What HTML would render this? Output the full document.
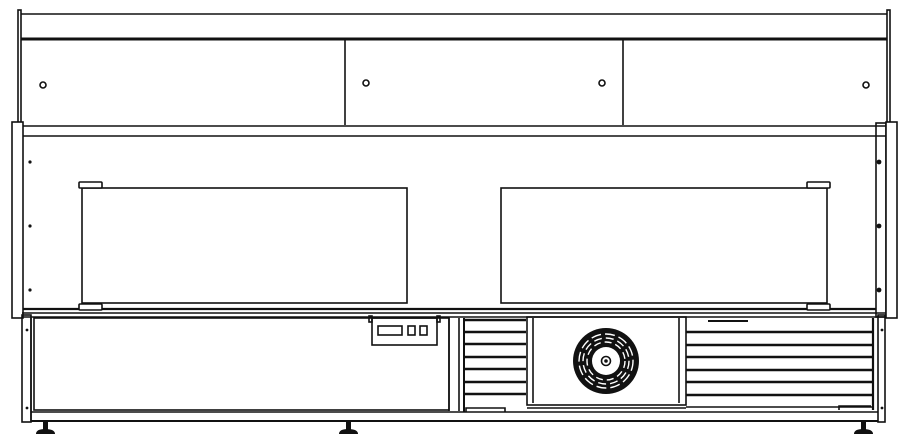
<!DOCTYPE html>
<html><head><meta charset="utf-8"><style>html,body{margin:0;padding:0;background:#fff}svg{display:block}</style></head>
<body>
<svg width="908" height="443" viewBox="0 0 908 443" xmlns="http://www.w3.org/2000/svg" fill="none" stroke="#111" stroke-width="1.6">
<!-- top canopy -->
<rect x="18" y="10" width="3" height="113" fill="#fff"/>
<rect x="887" y="10" width="3" height="113" fill="#fff"/>
<line x1="21" y1="14" x2="887" y2="14"/>
<line x1="21" y1="39" x2="887" y2="39" stroke-width="3"/>
<line x1="345" y1="40" x2="345" y2="125"/>
<line x1="623" y1="40" x2="623" y2="125"/>
<circle cx="43" cy="85" r="3"/>
<circle cx="366" cy="83" r="3"/>
<circle cx="602" cy="83" r="3"/>
<circle cx="866" cy="85" r="3"/>
<!-- middle section -->
<rect x="12" y="122" width="11" height="196" fill="#fff"/>
<rect x="876" y="123" width="10" height="194"/>
<rect x="886" y="122" width="11" height="196" fill="#fff"/>
<line x1="23" y1="126" x2="886" y2="126"/>
<line x1="23" y1="136" x2="886" y2="136"/>
<line x1="23" y1="309" x2="876" y2="309" stroke-width="2.2"/>
<g fill="#111" stroke="none">
<circle cx="30" cy="162" r="1.6"/><circle cx="30" cy="226" r="1.6"/><circle cx="30" cy="290" r="1.6"/>
<circle cx="879" cy="162" r="2.4"/><circle cx="879" cy="226" r="2.4"/><circle cx="879" cy="290" r="2.4"/>
</g>
<rect x="82" y="188" width="325" height="115"/>
<rect x="501" y="188" width="326" height="115"/>
<g fill="#fff">
<rect x="79" y="182" width="23" height="6" rx="1"/>
<rect x="79" y="304" width="23" height="6" rx="1"/>
<rect x="807" y="182" width="23" height="6" rx="1"/>
<rect x="807" y="304" width="23" height="6" rx="1"/>
</g>
<!-- bottom section -->
<line x1="22" y1="313" x2="886" y2="313"/>
<line x1="22" y1="317" x2="886" y2="317"/>
<rect x="22" y="315" width="9" height="107"/>
<rect x="878" y="315" width="7" height="107"/>
<line x1="31" y1="318" x2="31" y2="421"/>
<rect x="34" y="318" width="415" height="92"/>
<line x1="31" y1="412" x2="878" y2="412"/>
<line x1="31" y1="421" x2="878" y2="421" stroke-width="2"/>
<g fill="#111" stroke="none">
<circle cx="27" cy="330" r="1.4"/><circle cx="27" cy="408" r="1.4"/>
<circle cx="882" cy="330" r="1.4"/><circle cx="882" cy="408" r="1.4"/>
</g>
<!-- control -->
<rect x="372" y="318" width="65" height="27"/>
<rect x="369" y="316" width="3" height="6"/><rect x="437" y="316" width="3" height="6"/>
<rect x="378" y="326" width="24" height="9"/>
<rect x="408" y="326" width="7" height="9"/>
<rect x="420" y="326" width="7" height="9"/>
<!-- posts -->
<line x1="449" y1="318" x2="449" y2="411"/>
<line x1="459" y1="318" x2="459" y2="411"/>
<!-- left louvers -->
<g stroke-width="2.6">
<line x1="464" y1="320" x2="526" y2="320"/><line x1="464" y1="332" x2="526" y2="332"/>
<line x1="464" y1="344" x2="526" y2="344"/><line x1="464" y1="357" x2="526" y2="357"/>
<line x1="464" y1="369" x2="526" y2="369"/><line x1="464" y1="382" x2="526" y2="382"/>
<line x1="464" y1="394" x2="526" y2="394"/>
</g>
<line x1="464" y1="318" x2="464" y2="412" stroke-width="2"/>
<polyline points="466,412 466,408 505,408 505,412"/>
<!-- fan box -->
<rect x="527" y="317" width="159" height="88"/>
<line x1="533" y1="318" x2="533" y2="403"/>
<line x1="679" y1="318" x2="679" y2="403"/>
<line x1="527" y1="408" x2="686" y2="408"/>
<circle cx="606" cy="361" r="33" fill="#111" stroke="none"/>
<circle cx="606" cy="361" r="27" stroke="#fff" stroke-width="1.4" stroke-dasharray="10 4"/>
<circle cx="606" cy="361" r="23" stroke="#fff" stroke-width="1.4" stroke-dasharray="8 4"/>
<circle cx="606" cy="361" r="19" stroke="#fff" stroke-width="1.4" stroke-dasharray="7 4"/>
<circle cx="606" cy="361" r="14" fill="#fff" stroke="none"/>
<circle cx="606" cy="361" r="4.5"/>
<circle cx="606" cy="361" r="1" fill="#111"/>
<!-- right louvers -->
<line x1="708" y1="321" x2="748" y2="321" stroke-width="2"/>
<g stroke-width="2.6">
<line x1="686" y1="332" x2="873" y2="332"/><line x1="686" y1="345" x2="873" y2="345"/>
<line x1="686" y1="357" x2="873" y2="357"/><line x1="686" y1="370" x2="873" y2="370"/>
<line x1="686" y1="382" x2="873" y2="382"/><line x1="686" y1="395" x2="873" y2="395"/>
</g>
<line x1="686" y1="407" x2="873" y2="407"/>
<line x1="873" y1="318" x2="873" y2="410" stroke-width="2.2"/>
<polyline points="839,410 839,406 871,406"/>
<!-- feet -->
<g fill="#111" stroke="none">
<rect x="43" y="422" width="5" height="9"/><path d="M36 434 Q36 429 45 429 Q55 429 55 434 Z"/>
<rect x="346" y="422" width="5" height="9"/><path d="M339 434 Q339 429 348 429 Q358 429 358 434 Z"/>
<rect x="861" y="422" width="5" height="9"/><path d="M854 434 Q854 429 863 429 Q873 429 873 434 Z"/>
</g>
</svg>
</body></html>
